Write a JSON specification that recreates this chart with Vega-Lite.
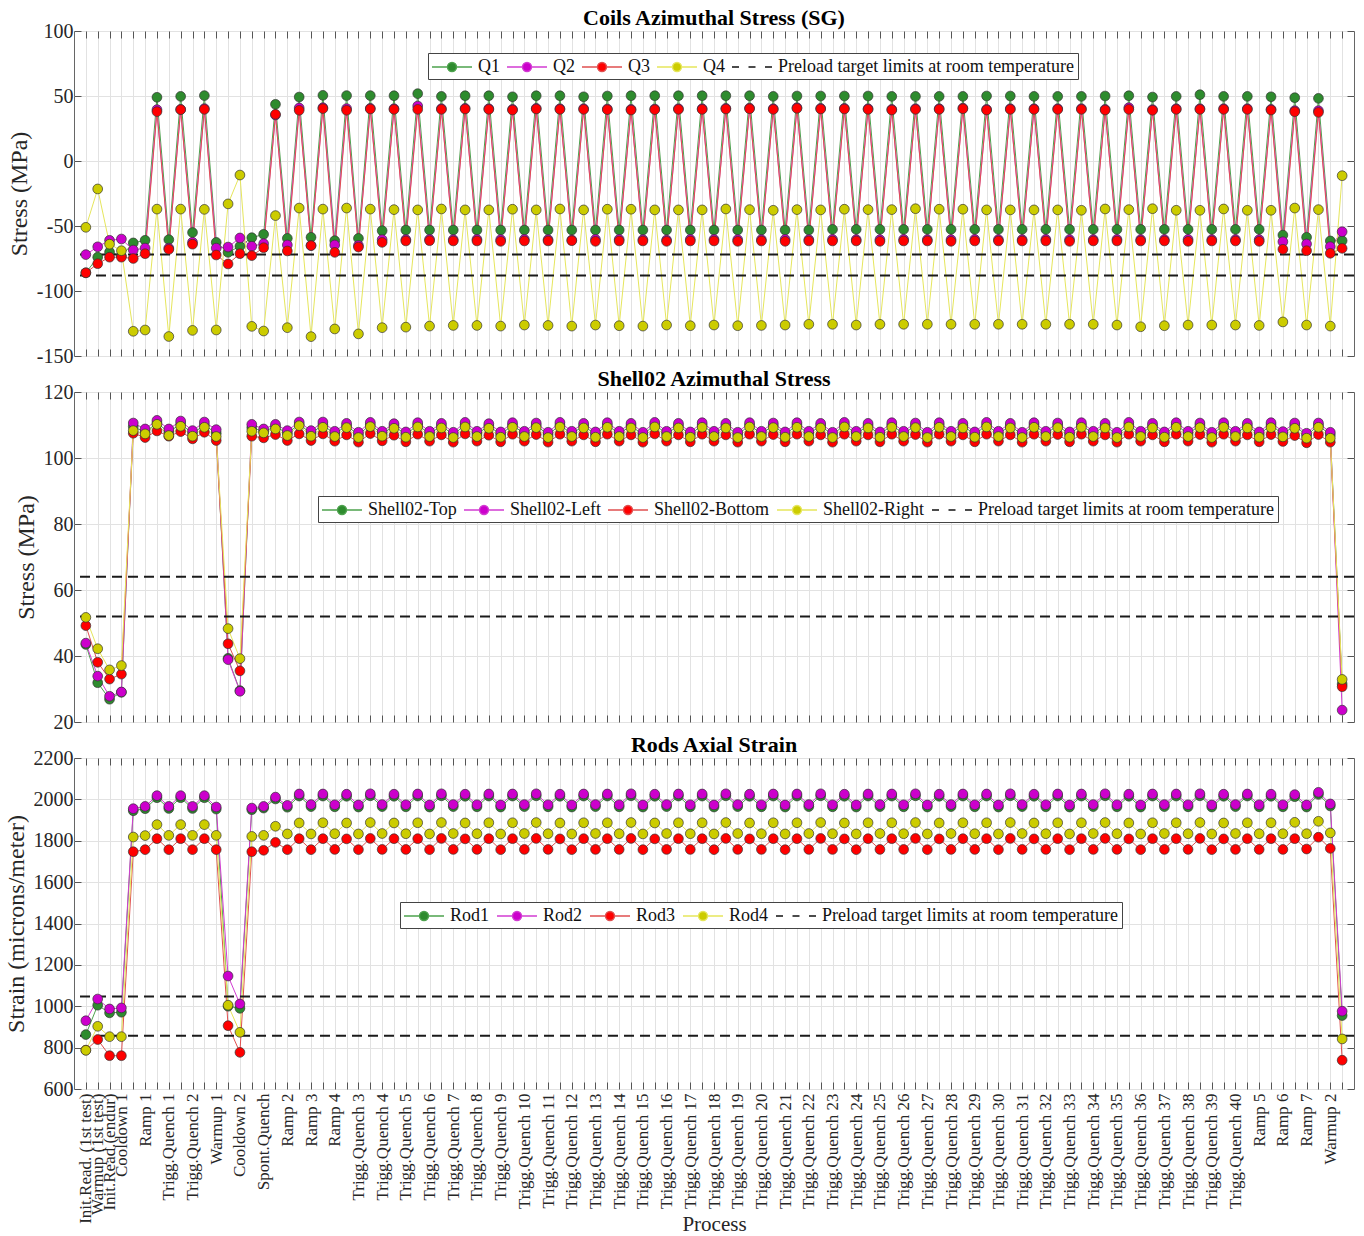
{
"$schema": "https://vega.github.io/schema/vega-lite/v6.json",
"padding": {"left": 3, "right": 3, "top": 6, "bottom": 0},
"background": "white",
"spacing": 0,
"datasets": {
"coils": [
{"i":1,"Q1":-86,"Q2":-72,"Q3":-86,"Q4":-51},
{"i":2,"Q1":-74,"Q2":-66,"Q3":-79,"Q4":-21.5},
{"i":3,"Q1":-70,"Q2":-61,"Q3":-74,"Q4":-64},
{"i":4,"Q1":-73,"Q2":-60,"Q3":-74,"Q4":-69},
{"i":5,"Q1":-63,"Q2":-68.5,"Q3":-75,"Q4":-131},
{"i":6,"Q1":-61,"Q2":-67,"Q3":-71.3,"Q4":-130},
{"i":7,"Q1":49,"Q2":39.5,"Q3":38,"Q4":-37},
{"i":8,"Q1":-60.5,"Q2":-67,"Q3":-68,"Q4":-135},
{"i":9,"Q1":49.7,"Q2":39.7,"Q3":39.5,"Q4":-37},
{"i":10,"Q1":-55,"Q2":-62.5,"Q3":-64,"Q4":-130.3},
{"i":11,"Q1":50.3,"Q2":40.3,"Q3":39.7,"Q4":-37.2},
{"i":12,"Q1":-62.6,"Q2":-67,"Q3":-72.3,"Q4":-130},
{"i":13,"Q1":-70.3,"Q2":-66.2,"Q3":-79.2,"Q4":-33},
{"i":14,"Q1":-65.6,"Q2":-59.2,"Q3":-71.3,"Q4":-10.8},
{"i":15,"Q1":-59,"Q2":-65.6,"Q3":-72.8,"Q4":-127.2},
{"i":16,"Q1":-56.4,"Q2":-63.6,"Q3":-66.7,"Q4":-130.8},
{"i":17,"Q1":43.6,"Q2":35.4,"Q3":35.9,"Q4":-42},
{"i":18,"Q1":-59.5,"Q2":-64.6,"Q3":-69.2,"Q4":-128.2},
{"i":19,"Q1":49.2,"Q2":40.8,"Q3":39,"Q4":-36.2},
{"i":20,"Q1":-58.7,"Q2":-65,"Q3":-65.1,"Q4":-135.1},
{"i":21,"Q1":50.5,"Q2":41,"Q3":40.3,"Q4":-37},
{"i":22,"Q1":-61.3,"Q2":-64.6,"Q3":-70.3,"Q4":-129.2},
{"i":23,"Q1":50.3,"Q2":40.3,"Q3":39,"Q4":-36.2},
{"i":24,"Q1":-59.5,"Q2":-65,"Q3":-66.2,"Q4":-133},
{"i":25,"Q1":50.3,"Q2":40.5,"Q3":40,"Q4":-37},
{"i":26,"Q1":-53.6,"Q2":-60.5,"Q3":-62.6,"Q4":-128.2},
{"i":27,"Q1":50.2,"Q2":40.2,"Q3":39.7,"Q4":-37.4},
{"i":28,"Q1":-53.1,"Q2":-60.5,"Q3":-61.5,"Q4":-127.8},
{"i":29,"Q1":51.8,"Q2":42.3,"Q3":39.7,"Q4":-37.6},
{"i":30,"Q1":-53.1,"Q2":-60.3,"Q3":-61.3,"Q4":-127},
{"i":31,"Q1":49.7,"Q2":40.2,"Q3":39.7,"Q4":-36.9},
{"i":32,"Q1":-53.1,"Q2":-60.5,"Q3":-61.5,"Q4":-126.5},
{"i":33,"Q1":50.2,"Q2":40.5,"Q3":40,"Q4":-37.6},
{"i":34,"Q1":-53.1,"Q2":-60.3,"Q3":-61.5,"Q4":-126.5},
{"i":35,"Q1":50.2,"Q2":40.2,"Q3":39.7,"Q4":-37.6},
{"i":36,"Q1":-53.1,"Q2":-60.5,"Q3":-61.8,"Q4":-127},
{"i":37,"Q1":49.4,"Q2":39.7,"Q3":39.2,"Q4":-37.1},
{"i":38,"Q1":-53.1,"Q2":-60.3,"Q3":-61.5,"Q4":-126.2},
{"i":39,"Q1":50.2,"Q2":40.5,"Q3":40,"Q4":-37.6},
{"i":40,"Q1":-53.1,"Q2":-60.5,"Q3":-61.5,"Q4":-126.5},
{"i":41,"Q1":50.2,"Q2":40.2,"Q3":39.7,"Q4":-36.9},
{"i":42,"Q1":-53.1,"Q2":-60.8,"Q3":-61.3,"Q4":-127},
{"i":43,"Q1":49.4,"Q2":40.2,"Q3":39.7,"Q4":-37.6},
{"i":44,"Q1":-53.1,"Q2":-60.3,"Q3":-61.8,"Q4":-126.2},
{"i":45,"Q1":50,"Q2":40,"Q3":39.5,"Q4":-37.1},
{"i":46,"Q1":-53.1,"Q2":-60.3,"Q3":-61.5,"Q4":-126.7},
{"i":47,"Q1":50.2,"Q2":39.7,"Q3":39.2,"Q4":-37.1},
{"i":48,"Q1":-53.1,"Q2":-60.5,"Q3":-61.5,"Q4":-127},
{"i":49,"Q1":50.2,"Q2":40,"Q3":39.5,"Q4":-37.6},
{"i":50,"Q1":-53.1,"Q2":-60.8,"Q3":-61.8,"Q4":-126.2},
{"i":51,"Q1":50.2,"Q2":40.2,"Q3":39.7,"Q4":-37.6},
{"i":52,"Q1":-53.1,"Q2":-60.3,"Q3":-61.5,"Q4":-126.7},
{"i":53,"Q1":50.2,"Q2":40.2,"Q3":39.7,"Q4":-37.6},
{"i":54,"Q1":-53.1,"Q2":-60.3,"Q3":-61.5,"Q4":-126.2},
{"i":55,"Q1":50.2,"Q2":40.5,"Q3":40,"Q4":-36.9},
{"i":56,"Q1":-53.1,"Q2":-60.5,"Q3":-61.8,"Q4":-126.7},
{"i":57,"Q1":50.2,"Q2":40.7,"Q3":40.2,"Q4":-37.4},
{"i":58,"Q1":-53.1,"Q2":-60.5,"Q3":-61.5,"Q4":-126.5},
{"i":59,"Q1":49.7,"Q2":40.2,"Q3":39.7,"Q4":-37.9},
{"i":60,"Q1":-53.1,"Q2":-60.3,"Q3":-61.8,"Q4":-126.2},
{"i":61,"Q1":50,"Q2":41,"Q3":40.5,"Q4":-37.4},
{"i":62,"Q1":-53.1,"Q2":-60.5,"Q3":-61.5,"Q4":-125.6},
{"i":63,"Q1":50,"Q2":40.5,"Q3":40,"Q4":-37.6},
{"i":64,"Q1":-52.6,"Q2":-60.3,"Q3":-61.5,"Q4":-125.6},
{"i":65,"Q1":50,"Q2":40.5,"Q3":40,"Q4":-37.1},
{"i":66,"Q1":-52.6,"Q2":-60.5,"Q3":-61.5,"Q4":-126.2},
{"i":67,"Q1":50,"Q2":40.2,"Q3":39.7,"Q4":-37.4},
{"i":68,"Q1":-52.6,"Q2":-60.5,"Q3":-61.8,"Q4":-125.6},
{"i":69,"Q1":49.7,"Q2":39.7,"Q3":39.2,"Q4":-37.4},
{"i":70,"Q1":-52.6,"Q2":-60.3,"Q3":-61.5,"Q4":-125.6},
{"i":71,"Q1":49.7,"Q2":40.2,"Q3":39.7,"Q4":-36.7},
{"i":72,"Q1":-52.6,"Q2":-60.5,"Q3":-61.5,"Q4":-125.6},
{"i":73,"Q1":49.7,"Q2":40.2,"Q3":39.7,"Q4":-37.1},
{"i":74,"Q1":-52.6,"Q2":-60.5,"Q3":-61.8,"Q4":-125.6},
{"i":75,"Q1":49.7,"Q2":40.7,"Q3":40.2,"Q4":-37.1},
{"i":76,"Q1":-52.6,"Q2":-60.3,"Q3":-61.5,"Q4":-125.6},
{"i":77,"Q1":50,"Q2":39.7,"Q3":39.2,"Q4":-37.6},
{"i":78,"Q1":-52.6,"Q2":-60.5,"Q3":-61.5,"Q4":-125.6},
{"i":79,"Q1":50,"Q2":40.2,"Q3":39.7,"Q4":-37.6},
{"i":80,"Q1":-52.6,"Q2":-60.5,"Q3":-61.5,"Q4":-125.6},
{"i":81,"Q1":49.7,"Q2":40.2,"Q3":39.7,"Q4":-37.6},
{"i":82,"Q1":-52.6,"Q2":-60.3,"Q3":-61.5,"Q4":-125.6},
{"i":83,"Q1":49.7,"Q2":40.2,"Q3":39.7,"Q4":-37.6},
{"i":84,"Q1":-52.6,"Q2":-60.5,"Q3":-61.8,"Q4":-125.6},
{"i":85,"Q1":49.7,"Q2":40.2,"Q3":39.7,"Q4":-37.9},
{"i":86,"Q1":-52.6,"Q2":-60.5,"Q3":-61.5,"Q4":-125.6},
{"i":87,"Q1":50,"Q2":39.7,"Q3":39.2,"Q4":-36.9},
{"i":88,"Q1":-52.6,"Q2":-60.3,"Q3":-61.5,"Q4":-126.2},
{"i":89,"Q1":50.2,"Q2":41,"Q3":39.7,"Q4":-37.4},
{"i":90,"Q1":-52.6,"Q2":-60.5,"Q3":-61.5,"Q4":-127.5},
{"i":91,"Q1":49.2,"Q2":39.5,"Q3":39,"Q4":-36.7},
{"i":92,"Q1":-52.6,"Q2":-60.5,"Q3":-61.5,"Q4":-126.7},
{"i":93,"Q1":49.7,"Q2":40.2,"Q3":39.7,"Q4":-37.9},
{"i":94,"Q1":-52.6,"Q2":-60.3,"Q3":-61.8,"Q4":-126.2},
{"i":95,"Q1":51,"Q2":40.2,"Q3":39.7,"Q4":-37.9},
{"i":96,"Q1":-52.6,"Q2":-60.5,"Q3":-61.5,"Q4":-126.2},
{"i":97,"Q1":49.7,"Q2":40.2,"Q3":39.7,"Q4":-36.9},
{"i":98,"Q1":-52.6,"Q2":-60.5,"Q3":-61.5,"Q4":-126.2},
{"i":99,"Q1":49.7,"Q2":40.2,"Q3":39.7,"Q4":-37.9},
{"i":100,"Q1":-52.6,"Q2":-60.5,"Q3":-61.8,"Q4":-126.5},
{"i":101,"Q1":49.4,"Q2":39.7,"Q3":39.2,"Q4":-37.9},
{"i":102,"Q1":-57,"Q2":-62.1,"Q3":-67.9,"Q4":-123.8},
{"i":103,"Q1":48.7,"Q2":38.7,"Q3":37.9,"Q4":-36.2},
{"i":104,"Q1":-58.7,"Q2":-63.8,"Q3":-69,"Q4":-126.2},
{"i":105,"Q1":48.2,"Q2":38.7,"Q3":37.4,"Q4":-37.4},
{"i":106,"Q1":-61.5,"Q2":-65.9,"Q3":-71,"Q4":-127},
{"i":107,"Q1":-61.3,"Q2":-54.4,"Q3":-67.2,"Q4":-11.3}
],
"shell": [
{"i":1,"Shell02-Top":43.5,"Shell02-Left":43.9,"Shell02-Bottom":49.2,"Shell02-Right":51.7},
{"i":2,"Shell02-Top":31.9,"Shell02-Left":33.9,"Shell02-Bottom":38.1,"Shell02-Right":42.2},
{"i":3,"Shell02-Top":26.9,"Shell02-Left":27.8,"Shell02-Bottom":33.0,"Shell02-Right":35.8},
{"i":4,"Shell02-Top":29.0,"Shell02-Left":29.1,"Shell02-Bottom":34.5,"Shell02-Right":37.1},
{"i":5,"Shell02-Top":109.5,"Shell02-Left":110.6,"Shell02-Bottom":107.5,"Shell02-Right":108.3},
{"i":6,"Shell02-Top":107.8,"Shell02-Left":108.8,"Shell02-Bottom":106.2,"Shell02-Right":107.3},
{"i":7,"Shell02-Top":110.6,"Shell02-Left":111.4,"Shell02-Bottom":108.2,"Shell02-Right":110.2},
{"i":8,"Shell02-Top":107.8,"Shell02-Left":108.8,"Shell02-Bottom":106.6,"Shell02-Right":106.8},
{"i":9,"Shell02-Top":110.4,"Shell02-Left":111.2,"Shell02-Bottom":108.0,"Shell02-Right":109.6},
{"i":10,"Shell02-Top":107.4,"Shell02-Left":108.3,"Shell02-Bottom":105.8,"Shell02-Right":106.6},
{"i":11,"Shell02-Top":110.0,"Shell02-Left":110.9,"Shell02-Bottom":107.8,"Shell02-Right":109.3},
{"i":12,"Shell02-Top":107.5,"Shell02-Left":108.6,"Shell02-Bottom":105.3,"Shell02-Right":106.5},
{"i":13,"Shell02-Top":39.3,"Shell02-Left":38.9,"Shell02-Bottom":43.7,"Shell02-Right":48.3},
{"i":14,"Shell02-Top":29.5,"Shell02-Left":29.3,"Shell02-Bottom":35.5,"Shell02-Right":39.2},
{"i":15,"Shell02-Top":109.2,"Shell02-Left":110.2,"Shell02-Bottom":106.6,"Shell02-Right":108.1},
{"i":16,"Shell02-Top":108.0,"Shell02-Left":108.8,"Shell02-Bottom":106.1,"Shell02-Right":107.6},
{"i":17,"Shell02-Top":109.5,"Shell02-Left":110.2,"Shell02-Bottom":107.1,"Shell02-Right":108.8},
{"i":18,"Shell02-Top":107.5,"Shell02-Left":108.3,"Shell02-Bottom":105.3,"Shell02-Right":106.8},
{"i":19,"Shell02-Top":110.2,"Shell02-Left":110.9,"Shell02-Bottom":107.3,"Shell02-Right":109.8},
{"i":20,"Shell02-Top":107.5,"Shell02-Left":108.3,"Shell02-Bottom":105.3,"Shell02-Right":106.6},
{"i":21,"Shell02-Top":110.0,"Shell02-Left":110.9,"Shell02-Bottom":107.3,"Shell02-Right":109.3},
{"i":22,"Shell02-Top":107.3,"Shell02-Left":108.1,"Shell02-Bottom":105.1,"Shell02-Right":106.5},
{"i":23,"Shell02-Top":109.8,"Shell02-Left":110.5,"Shell02-Bottom":107.0,"Shell02-Right":109.2},
{"i":24,"Shell02-Top":107.0,"Shell02-Left":107.8,"Shell02-Bottom":104.8,"Shell02-Right":106.2},
{"i":25,"Shell02-Top":110.1,"Shell02-Left":110.8,"Shell02-Bottom":107.4,"Shell02-Right":109.5},
{"i":26,"Shell02-Top":107.3,"Shell02-Left":108.1,"Shell02-Bottom":105.2,"Shell02-Right":106.6},
{"i":27,"Shell02-Top":109.7,"Shell02-Left":110.4,"Shell02-Bottom":106.9,"Shell02-Right":109.0},
{"i":28,"Shell02-Top":107.1,"Shell02-Left":107.9,"Shell02-Bottom":104.9,"Shell02-Right":106.3},
{"i":29,"Shell02-Top":110.0,"Shell02-Left":110.7,"Shell02-Bottom":107.2,"Shell02-Right":109.4},
{"i":30,"Shell02-Top":107.3,"Shell02-Left":108.1,"Shell02-Bottom":105.1,"Shell02-Right":106.5},
{"i":31,"Shell02-Top":109.8,"Shell02-Left":110.5,"Shell02-Bottom":107.0,"Shell02-Right":109.1},
{"i":32,"Shell02-Top":107.0,"Shell02-Left":107.8,"Shell02-Bottom":104.8,"Shell02-Right":106.2},
{"i":33,"Shell02-Top":110.1,"Shell02-Left":110.8,"Shell02-Bottom":107.3,"Shell02-Right":109.4},
{"i":34,"Shell02-Top":107.3,"Shell02-Left":108.1,"Shell02-Bottom":105.1,"Shell02-Right":106.5},
{"i":35,"Shell02-Top":109.7,"Shell02-Left":110.4,"Shell02-Bottom":106.9,"Shell02-Right":109.0},
{"i":36,"Shell02-Top":107.1,"Shell02-Left":107.9,"Shell02-Bottom":104.9,"Shell02-Right":106.3},
{"i":37,"Shell02-Top":110.0,"Shell02-Left":110.7,"Shell02-Bottom":107.2,"Shell02-Right":109.3},
{"i":38,"Shell02-Top":107.3,"Shell02-Left":108.1,"Shell02-Bottom":105.1,"Shell02-Right":106.5},
{"i":39,"Shell02-Top":109.9,"Shell02-Left":110.6,"Shell02-Bottom":107.1,"Shell02-Right":109.2},
{"i":40,"Shell02-Top":107.0,"Shell02-Left":107.8,"Shell02-Bottom":104.8,"Shell02-Right":106.2},
{"i":41,"Shell02-Top":110.0,"Shell02-Left":110.8,"Shell02-Bottom":107.2,"Shell02-Right":109.4},
{"i":42,"Shell02-Top":107.3,"Shell02-Left":108.1,"Shell02-Bottom":105.1,"Shell02-Right":106.5},
{"i":43,"Shell02-Top":109.8,"Shell02-Left":110.5,"Shell02-Bottom":107.0,"Shell02-Right":109.1},
{"i":44,"Shell02-Top":107.1,"Shell02-Left":107.9,"Shell02-Bottom":104.9,"Shell02-Right":106.3},
{"i":45,"Shell02-Top":110.0,"Shell02-Left":110.7,"Shell02-Bottom":107.2,"Shell02-Right":109.3},
{"i":46,"Shell02-Top":107.3,"Shell02-Left":108.1,"Shell02-Bottom":105.1,"Shell02-Right":106.5},
{"i":47,"Shell02-Top":109.8,"Shell02-Left":110.5,"Shell02-Bottom":107.0,"Shell02-Right":109.1},
{"i":48,"Shell02-Top":107.0,"Shell02-Left":107.8,"Shell02-Bottom":104.8,"Shell02-Right":106.2},
{"i":49,"Shell02-Top":110.1,"Shell02-Left":110.8,"Shell02-Bottom":107.3,"Shell02-Right":109.4},
{"i":50,"Shell02-Top":107.3,"Shell02-Left":108.1,"Shell02-Bottom":105.1,"Shell02-Right":106.5},
{"i":51,"Shell02-Top":109.8,"Shell02-Left":110.5,"Shell02-Bottom":107.0,"Shell02-Right":109.1},
{"i":52,"Shell02-Top":107.1,"Shell02-Left":107.9,"Shell02-Bottom":104.9,"Shell02-Right":106.3},
{"i":53,"Shell02-Top":110.0,"Shell02-Left":110.7,"Shell02-Bottom":107.2,"Shell02-Right":109.3},
{"i":54,"Shell02-Top":107.3,"Shell02-Left":108.1,"Shell02-Bottom":105.1,"Shell02-Right":106.5},
{"i":55,"Shell02-Top":109.8,"Shell02-Left":110.5,"Shell02-Bottom":107.0,"Shell02-Right":109.1},
{"i":56,"Shell02-Top":107.0,"Shell02-Left":107.8,"Shell02-Bottom":104.8,"Shell02-Right":106.2},
{"i":57,"Shell02-Top":110.0,"Shell02-Left":110.7,"Shell02-Bottom":107.2,"Shell02-Right":109.4},
{"i":58,"Shell02-Top":107.3,"Shell02-Left":108.1,"Shell02-Bottom":105.1,"Shell02-Right":106.5},
{"i":59,"Shell02-Top":109.9,"Shell02-Left":110.6,"Shell02-Bottom":107.1,"Shell02-Right":109.2},
{"i":60,"Shell02-Top":107.1,"Shell02-Left":107.9,"Shell02-Bottom":104.9,"Shell02-Right":106.3},
{"i":61,"Shell02-Top":110.0,"Shell02-Left":110.7,"Shell02-Bottom":107.2,"Shell02-Right":109.3},
{"i":62,"Shell02-Top":107.3,"Shell02-Left":108.1,"Shell02-Bottom":105.1,"Shell02-Right":106.5},
{"i":63,"Shell02-Top":109.8,"Shell02-Left":110.5,"Shell02-Bottom":107.0,"Shell02-Right":109.1},
{"i":64,"Shell02-Top":107.0,"Shell02-Left":107.8,"Shell02-Bottom":104.8,"Shell02-Right":106.2},
{"i":65,"Shell02-Top":110.0,"Shell02-Left":110.8,"Shell02-Bottom":107.2,"Shell02-Right":109.4},
{"i":66,"Shell02-Top":107.3,"Shell02-Left":108.1,"Shell02-Bottom":105.1,"Shell02-Right":106.5},
{"i":67,"Shell02-Top":109.8,"Shell02-Left":110.5,"Shell02-Bottom":107.0,"Shell02-Right":109.1},
{"i":68,"Shell02-Top":107.1,"Shell02-Left":107.9,"Shell02-Bottom":104.9,"Shell02-Right":106.3},
{"i":69,"Shell02-Top":110.0,"Shell02-Left":110.7,"Shell02-Bottom":107.2,"Shell02-Right":109.3},
{"i":70,"Shell02-Top":107.3,"Shell02-Left":108.1,"Shell02-Bottom":105.1,"Shell02-Right":106.5},
{"i":71,"Shell02-Top":109.9,"Shell02-Left":110.6,"Shell02-Bottom":107.1,"Shell02-Right":109.2},
{"i":72,"Shell02-Top":107.0,"Shell02-Left":107.8,"Shell02-Bottom":104.8,"Shell02-Right":106.2},
{"i":73,"Shell02-Top":110.0,"Shell02-Left":110.7,"Shell02-Bottom":107.2,"Shell02-Right":109.3},
{"i":74,"Shell02-Top":107.3,"Shell02-Left":108.1,"Shell02-Bottom":105.1,"Shell02-Right":106.5},
{"i":75,"Shell02-Top":109.8,"Shell02-Left":110.5,"Shell02-Bottom":107.0,"Shell02-Right":109.1},
{"i":76,"Shell02-Top":107.1,"Shell02-Left":107.9,"Shell02-Bottom":104.9,"Shell02-Right":106.3},
{"i":77,"Shell02-Top":110.0,"Shell02-Left":110.8,"Shell02-Bottom":107.2,"Shell02-Right":109.4},
{"i":78,"Shell02-Top":107.3,"Shell02-Left":108.1,"Shell02-Bottom":105.1,"Shell02-Right":106.5},
{"i":79,"Shell02-Top":109.8,"Shell02-Left":110.5,"Shell02-Bottom":107.0,"Shell02-Right":109.1},
{"i":80,"Shell02-Top":107.0,"Shell02-Left":107.8,"Shell02-Bottom":104.8,"Shell02-Right":106.2},
{"i":81,"Shell02-Top":110.0,"Shell02-Left":110.7,"Shell02-Bottom":107.2,"Shell02-Right":109.3},
{"i":82,"Shell02-Top":107.3,"Shell02-Left":108.1,"Shell02-Bottom":105.1,"Shell02-Right":106.5},
{"i":83,"Shell02-Top":109.9,"Shell02-Left":110.6,"Shell02-Bottom":107.1,"Shell02-Right":109.2},
{"i":84,"Shell02-Top":107.1,"Shell02-Left":107.9,"Shell02-Bottom":104.9,"Shell02-Right":106.3},
{"i":85,"Shell02-Top":110.0,"Shell02-Left":110.7,"Shell02-Bottom":107.2,"Shell02-Right":109.3},
{"i":86,"Shell02-Top":107.3,"Shell02-Left":108.1,"Shell02-Bottom":105.1,"Shell02-Right":106.5},
{"i":87,"Shell02-Top":109.8,"Shell02-Left":110.5,"Shell02-Bottom":107.0,"Shell02-Right":109.1},
{"i":88,"Shell02-Top":107.0,"Shell02-Left":107.8,"Shell02-Bottom":104.8,"Shell02-Right":106.2},
{"i":89,"Shell02-Top":110.0,"Shell02-Left":110.8,"Shell02-Bottom":107.2,"Shell02-Right":109.4},
{"i":90,"Shell02-Top":107.3,"Shell02-Left":108.1,"Shell02-Bottom":105.1,"Shell02-Right":106.5},
{"i":91,"Shell02-Top":109.8,"Shell02-Left":110.5,"Shell02-Bottom":107.0,"Shell02-Right":109.1},
{"i":92,"Shell02-Top":107.1,"Shell02-Left":107.9,"Shell02-Bottom":104.9,"Shell02-Right":106.3},
{"i":93,"Shell02-Top":110.0,"Shell02-Left":110.7,"Shell02-Bottom":107.2,"Shell02-Right":109.3},
{"i":94,"Shell02-Top":107.3,"Shell02-Left":108.1,"Shell02-Bottom":105.1,"Shell02-Right":106.5},
{"i":95,"Shell02-Top":109.9,"Shell02-Left":110.6,"Shell02-Bottom":107.1,"Shell02-Right":109.2},
{"i":96,"Shell02-Top":107.0,"Shell02-Left":107.8,"Shell02-Bottom":104.8,"Shell02-Right":106.2},
{"i":97,"Shell02-Top":110.0,"Shell02-Left":110.7,"Shell02-Bottom":107.2,"Shell02-Right":109.3},
{"i":98,"Shell02-Top":107.3,"Shell02-Left":108.1,"Shell02-Bottom":105.1,"Shell02-Right":106.5},
{"i":99,"Shell02-Top":109.8,"Shell02-Left":110.5,"Shell02-Bottom":107.0,"Shell02-Right":109.1},
{"i":100,"Shell02-Top":107.1,"Shell02-Left":107.9,"Shell02-Bottom":104.9,"Shell02-Right":106.3},
{"i":101,"Shell02-Top":110.0,"Shell02-Left":110.7,"Shell02-Bottom":107.1,"Shell02-Right":109.2},
{"i":102,"Shell02-Top":107.2,"Shell02-Left":108.0,"Shell02-Bottom":105.0,"Shell02-Right":106.4},
{"i":103,"Shell02-Top":109.9,"Shell02-Left":110.6,"Shell02-Bottom":106.8,"Shell02-Right":109.0},
{"i":104,"Shell02-Top":106.8,"Shell02-Left":107.5,"Shell02-Bottom":104.6,"Shell02-Right":106.0},
{"i":105,"Shell02-Top":109.9,"Shell02-Left":110.6,"Shell02-Bottom":107.1,"Shell02-Right":109.3},
{"i":106,"Shell02-Top":107.0,"Shell02-Left":107.8,"Shell02-Bottom":104.8,"Shell02-Right":106.0},
{"i":107,"Shell02-Top":31.5,"Shell02-Left":23.6,"Shell02-Bottom":30.7,"Shell02-Right":32.9}
],
"rods": [
{"i":1,"Rod1":863,"Rod2":930,"Rod3":788,"Rod4":787},
{"i":2,"Rod1":1005,"Rod2":1035,"Rod3":839,"Rod4":903},
{"i":3,"Rod1":968,"Rod2":987,"Rod3":761,"Rod4":853},
{"i":4,"Rod1":971,"Rod2":992,"Rod3":761,"Rod4":853},
{"i":5,"Rod1":1945,"Rod2":1955,"Rod3":1747,"Rod4":1818},
{"i":6,"Rod1":1955,"Rod2":1966,"Rod3":1757,"Rod4":1825},
{"i":7,"Rod1":2008,"Rod2":2018,"Rod3":1810,"Rod4":1878},
{"i":8,"Rod1":1956,"Rod2":1966,"Rod3":1757,"Rod4":1826},
{"i":9,"Rod1":2008,"Rod2":2018,"Rod3":1810,"Rod4":1878},
{"i":10,"Rod1":1956,"Rod2":1966,"Rod3":1757,"Rod4":1826},
{"i":11,"Rod1":2008,"Rod2":2018,"Rod3":1810,"Rod4":1878},
{"i":12,"Rod1":1953,"Rod2":1963,"Rod3":1757,"Rod4":1826},
{"i":13,"Rod1":1000,"Rod2":1146,"Rod3":906,"Rod4":1005},
{"i":14,"Rod1":990,"Rod2":1011,"Rod3":777,"Rod4":874},
{"i":15,"Rod1":1950,"Rod2":1958,"Rod3":1747,"Rod4":1821},
{"i":16,"Rod1":1958,"Rod2":1966,"Rod3":1754,"Rod4":1826},
{"i":17,"Rod1":2002,"Rod2":2011,"Rod3":1792,"Rod4":1870},
{"i":18,"Rod1":1962,"Rod2":1971,"Rod3":1757,"Rod4":1833},
{"i":19,"Rod1":2016,"Rod2":2026,"Rod3":1810,"Rod4":1886},
{"i":20,"Rod1":1965,"Rod2":1975,"Rod3":1757,"Rod4":1833},
{"i":21,"Rod1":2016,"Rod2":2026,"Rod3":1810,"Rod4":1887},
{"i":22,"Rod1":1964,"Rod2":1974,"Rod3":1758,"Rod4":1834},
{"i":23,"Rod1":2015,"Rod2":2025,"Rod3":1809,"Rod4":1886},
{"i":24,"Rod1":1963,"Rod2":1973,"Rod3":1757,"Rod4":1833},
{"i":25,"Rod1":2017,"Rod2":2027,"Rod3":1811,"Rod4":1888},
{"i":26,"Rod1":1965,"Rod2":1975,"Rod3":1758,"Rod4":1835},
{"i":27,"Rod1":2015,"Rod2":2025,"Rod3":1810,"Rod4":1886},
{"i":28,"Rod1":1964,"Rod2":1974,"Rod3":1758,"Rod4":1834},
{"i":29,"Rod1":2016,"Rod2":2026,"Rod3":1810,"Rod4":1887},
{"i":30,"Rod1":1963,"Rod2":1973,"Rod3":1757,"Rod4":1833},
{"i":31,"Rod1":2017,"Rod2":2027,"Rod3":1811,"Rod4":1888},
{"i":32,"Rod1":1965,"Rod2":1975,"Rod3":1758,"Rod4":1835},
{"i":33,"Rod1":2015,"Rod2":2025,"Rod3":1809,"Rod4":1886},
{"i":34,"Rod1":1964,"Rod2":1974,"Rod3":1758,"Rod4":1834},
{"i":35,"Rod1":2016,"Rod2":2026,"Rod3":1810,"Rod4":1887},
{"i":36,"Rod1":1963,"Rod2":1973,"Rod3":1757,"Rod4":1833},
{"i":37,"Rod1":2016,"Rod2":2026,"Rod3":1810,"Rod4":1887},
{"i":38,"Rod1":1965,"Rod2":1975,"Rod3":1758,"Rod4":1835},
{"i":39,"Rod1":2017,"Rod2":2027,"Rod3":1811,"Rod4":1888},
{"i":40,"Rod1":1964,"Rod2":1974,"Rod3":1758,"Rod4":1834},
{"i":41,"Rod1":2015,"Rod2":2025,"Rod3":1809,"Rod4":1886},
{"i":42,"Rod1":1963,"Rod2":1973,"Rod3":1757,"Rod4":1833},
{"i":43,"Rod1":2016,"Rod2":2026,"Rod3":1810,"Rod4":1887},
{"i":44,"Rod1":1965,"Rod2":1975,"Rod3":1758,"Rod4":1835},
{"i":45,"Rod1":2016,"Rod2":2026,"Rod3":1810,"Rod4":1887},
{"i":46,"Rod1":1964,"Rod2":1974,"Rod3":1758,"Rod4":1834},
{"i":47,"Rod1":2017,"Rod2":2027,"Rod3":1811,"Rod4":1888},
{"i":48,"Rod1":1963,"Rod2":1973,"Rod3":1757,"Rod4":1833},
{"i":49,"Rod1":2015,"Rod2":2025,"Rod3":1809,"Rod4":1886},
{"i":50,"Rod1":1965,"Rod2":1975,"Rod3":1758,"Rod4":1835},
{"i":51,"Rod1":2016,"Rod2":2026,"Rod3":1810,"Rod4":1887},
{"i":52,"Rod1":1964,"Rod2":1974,"Rod3":1758,"Rod4":1834},
{"i":53,"Rod1":2016,"Rod2":2026,"Rod3":1810,"Rod4":1887},
{"i":54,"Rod1":1963,"Rod2":1973,"Rod3":1757,"Rod4":1833},
{"i":55,"Rod1":2017,"Rod2":2027,"Rod3":1811,"Rod4":1888},
{"i":56,"Rod1":1965,"Rod2":1975,"Rod3":1758,"Rod4":1835},
{"i":57,"Rod1":2015,"Rod2":2025,"Rod3":1809,"Rod4":1886},
{"i":58,"Rod1":1964,"Rod2":1974,"Rod3":1758,"Rod4":1834},
{"i":59,"Rod1":2016,"Rod2":2026,"Rod3":1810,"Rod4":1887},
{"i":60,"Rod1":1963,"Rod2":1973,"Rod3":1757,"Rod4":1833},
{"i":61,"Rod1":2016,"Rod2":2026,"Rod3":1810,"Rod4":1887},
{"i":62,"Rod1":1965,"Rod2":1975,"Rod3":1758,"Rod4":1835},
{"i":63,"Rod1":2017,"Rod2":2027,"Rod3":1811,"Rod4":1888},
{"i":64,"Rod1":1964,"Rod2":1974,"Rod3":1758,"Rod4":1834},
{"i":65,"Rod1":2015,"Rod2":2025,"Rod3":1809,"Rod4":1886},
{"i":66,"Rod1":1963,"Rod2":1973,"Rod3":1757,"Rod4":1833},
{"i":67,"Rod1":2016,"Rod2":2026,"Rod3":1810,"Rod4":1887},
{"i":68,"Rod1":1965,"Rod2":1975,"Rod3":1758,"Rod4":1835},
{"i":69,"Rod1":2016,"Rod2":2026,"Rod3":1810,"Rod4":1887},
{"i":70,"Rod1":1964,"Rod2":1974,"Rod3":1758,"Rod4":1834},
{"i":71,"Rod1":2017,"Rod2":2027,"Rod3":1811,"Rod4":1888},
{"i":72,"Rod1":1963,"Rod2":1973,"Rod3":1757,"Rod4":1833},
{"i":73,"Rod1":2015,"Rod2":2025,"Rod3":1809,"Rod4":1886},
{"i":74,"Rod1":1965,"Rod2":1975,"Rod3":1758,"Rod4":1835},
{"i":75,"Rod1":2016,"Rod2":2026,"Rod3":1810,"Rod4":1887},
{"i":76,"Rod1":1964,"Rod2":1974,"Rod3":1758,"Rod4":1834},
{"i":77,"Rod1":2016,"Rod2":2026,"Rod3":1810,"Rod4":1887},
{"i":78,"Rod1":1963,"Rod2":1973,"Rod3":1757,"Rod4":1833},
{"i":79,"Rod1":2017,"Rod2":2027,"Rod3":1811,"Rod4":1888},
{"i":80,"Rod1":1965,"Rod2":1975,"Rod3":1758,"Rod4":1835},
{"i":81,"Rod1":2015,"Rod2":2025,"Rod3":1809,"Rod4":1886},
{"i":82,"Rod1":1964,"Rod2":1974,"Rod3":1758,"Rod4":1834},
{"i":83,"Rod1":2016,"Rod2":2026,"Rod3":1810,"Rod4":1887},
{"i":84,"Rod1":1963,"Rod2":1973,"Rod3":1757,"Rod4":1833},
{"i":85,"Rod1":2016,"Rod2":2026,"Rod3":1810,"Rod4":1887},
{"i":86,"Rod1":1965,"Rod2":1975,"Rod3":1758,"Rod4":1835},
{"i":87,"Rod1":2017,"Rod2":2027,"Rod3":1811,"Rod4":1888},
{"i":88,"Rod1":1964,"Rod2":1974,"Rod3":1758,"Rod4":1834},
{"i":89,"Rod1":2015,"Rod2":2025,"Rod3":1809,"Rod4":1886},
{"i":90,"Rod1":1963,"Rod2":1973,"Rod3":1757,"Rod4":1833},
{"i":91,"Rod1":2016,"Rod2":2026,"Rod3":1810,"Rod4":1887},
{"i":92,"Rod1":1965,"Rod2":1975,"Rod3":1758,"Rod4":1835},
{"i":93,"Rod1":2016,"Rod2":2026,"Rod3":1810,"Rod4":1887},
{"i":94,"Rod1":1964,"Rod2":1974,"Rod3":1758,"Rod4":1834},
{"i":95,"Rod1":2017,"Rod2":2027,"Rod3":1811,"Rod4":1888},
{"i":96,"Rod1":1963,"Rod2":1973,"Rod3":1757,"Rod4":1833},
{"i":97,"Rod1":2015,"Rod2":2025,"Rod3":1809,"Rod4":1886},
{"i":98,"Rod1":1965,"Rod2":1975,"Rod3":1758,"Rod4":1835},
{"i":99,"Rod1":2016,"Rod2":2026,"Rod3":1810,"Rod4":1887},
{"i":100,"Rod1":1964,"Rod2":1974,"Rod3":1758,"Rod4":1834},
{"i":101,"Rod1":2015,"Rod2":2025,"Rod3":1810,"Rod4":1887},
{"i":102,"Rod1":1964,"Rod2":1974,"Rod3":1758,"Rod4":1834},
{"i":103,"Rod1":2013,"Rod2":2023,"Rod3":1810,"Rod4":1889},
{"i":104,"Rod1":1963,"Rod2":1973,"Rod3":1760,"Rod4":1834},
{"i":105,"Rod1":2024,"Rod2":2034,"Rod3":1817,"Rod4":1894},
{"i":106,"Rod1":1968,"Rod2":1978,"Rod3":1763,"Rod4":1838},
{"i":107,"Rod1":955,"Rod2":976,"Rod3":739,"Rod4":842}
]
},
"vconcat": [
{
"width": 1280, "height": 325,
"title": {"text": "Coils Azimuthal Stress (SG)"},
"layer": [
{"data": {"name": "coils"},
 "transform": [{"fold": ["Q1","Q2","Q3","Q4"], "as": ["series","value"]}],
 "mark": {"type": "line", "strokeWidth": 1},
 "encoding": {
  "x": {"field": "i", "type": "quantitative", "scale": {"domain": [0,108], "nice": false, "zero": false},
   "axis": {"orient": "bottom", "values": [1,2,3,4,5,6,7,8,9,10,11,12,13,14,15,16,17,18,19,20,21,22,23,24,25,26,27,28,29,30,31,32,33,34,35,36,37,38,39,40,41,42,43,44,45,46,47,48,49,50,51,52,53,54,55,56,57,58,59,60,61,62,63,64,65,66,67,68,69,70,71,72,73,74,75,76,77,78,79,80,81,82,83,84,85,86,87,88,89,90,91,92,93,94,95,96,97,98,99,100,101,102,103,104,105,106,107], "labels": false, "title": null, "grid": true, "ticks": true, "tickSize": -7, "domain": false, "minExtent": 0, "maxExtent": 0}},
  "y": {"field": "value", "type": "quantitative", "scale": {"domain": [-150,100], "nice": false, "zero": false},
   "axis": {"title": "Stress (MPa)", "values": [-150,-100,-50,0,50,100], "labelExpr": "datum.value + ''", "grid": true, "ticks": true, "tickSize": -7, "domain": false, "labelPadding": 8, "titlePadding": 5}},
  "stroke": {"field": "series", "type": "nominal", "scale": {"domain": ["Q1","Q2","Q3","Q4","Preload target limits at room temperature"], "range": ["#4ea24e","#d23cd2","#e05050","#e6e65c","#111111"]}, "legend": null}
 }},
{"data": {"values": [{"lim": -72},{"lim": -88}]},
 "mark": {"type": "rule", "stroke": "#1a1a1a", "strokeWidth": 2, "strokeDash": [10,6]},
 "encoding": {"y": {"field": "lim", "type": "quantitative", "axis": null}}},
{"data": {"name": "coils"},
 "transform": [{"fold": ["Q1","Q2","Q3","Q4"], "as": ["series","value"]}],
 "mark": {"type": "point", "filled": true, "opacity": 1, "size": 95, "stroke": "#333333", "strokeWidth": 0.7},
 "encoding": {
  "x": {"field": "i", "type": "quantitative", "axis": {"orient": "top", "values": [1,2,3,4,5,6,7,8,9,10,11,12,13,14,15,16,17,18,19,20,21,22,23,24,25,26,27,28,29,30,31,32,33,34,35,36,37,38,39,40,41,42,43,44,45,46,47,48,49,50,51,52,53,54,55,56,57,58,59,60,61,62,63,64,65,66,67,68,69,70,71,72,73,74,75,76,77,78,79,80,81,82,83,84,85,86,87,88,89,90,91,92,93,94,95,96,97,98,99,100,101,102,103,104,105,106,107], "labels": false, "title": null, "grid": false, "ticks": true, "tickSize": -7, "domain": false, "minExtent": 0, "maxExtent": 0}},
  "y": {"field": "value", "type": "quantitative", "axis": {"orient": "right", "values": [-150,-100,-50,0,50,100], "labels": false, "title": null, "grid": false, "ticks": true, "tickSize": -7, "domain": false, "minExtent": 0, "maxExtent": 0}},
  "color": {"field": "series", "type": "nominal", "scale": {"domain": ["Q1","Q2","Q3","Q4","Preload target limits at room temperature"], "range": ["#2e8b2e","#cc00cc","#ff0000","#cccc00","#000000"]}, "legend": null}
 }},
{"data": {"values": []},
 "mark": {"type": "point", "filled": true, "opacity": 1, "strokeWidth": 1.4},
 "encoding": {
  "color": {"field": "series", "type": "nominal", "scale": {"domain": ["Q1","Q2","Q3","Q4","Preload target limits at room temperature"], "range": ["#2e8b2e","#cc00cc","#ff0000","#cccc00","#000000"]},
   "legend": {"orient": "none", "legendX": 354, "legendY": 22, "direction": "horizontal", "title": null, "labelFontSize": 18, "labelLimit": 400, "symbolSize": 400, "symbolStrokeWidth": 1.4, "symbolOffset": 10, "labelOffset": 15, "columnPadding": 4, "padding": 3, "strokeColor": "#444444", "fillColor": "#ffffff"}},
  "stroke": {"field": "series", "type": "nominal", "scale": {"domain": ["Q1","Q2","Q3","Q4","Preload target limits at room temperature"], "range": ["#4ea24e","#d23cd2","#e05050","#e6e65c","#111111"]},
   "legend": {"orient": "none", "legendX": 354, "legendY": 22, "direction": "horizontal", "title": null, "labelFontSize": 18, "labelLimit": 400, "symbolSize": 400, "symbolStrokeWidth": 1.4, "symbolOffset": 10, "labelOffset": 15, "columnPadding": 4, "padding": 3, "strokeColor": "#444444", "fillColor": "#ffffff"}},
  "shape": {"field": "series", "type": "nominal", "scale": {"domain": ["Q1","Q2","Q3","Q4","Preload target limits at room temperature"], "range": ["M-2,0L-0.45,0M0.45,0L2,0M0.45,0A0.45,0.45,0,1,1,-0.45,0A0.45,0.45,0,1,1,0.45,0Z","M-2,0L-0.45,0M0.45,0L2,0M0.45,0A0.45,0.45,0,1,1,-0.45,0A0.45,0.45,0,1,1,0.45,0Z","M-2,0L-0.45,0M0.45,0L2,0M0.45,0A0.45,0.45,0,1,1,-0.45,0A0.45,0.45,0,1,1,0.45,0Z","M-2,0L-0.45,0M0.45,0L2,0M0.45,0A0.45,0.45,0,1,1,-0.45,0A0.45,0.45,0,1,1,0.45,0Z","M-2,0L-1.3,0M-0.35,0L0.35,0M1.3,0L2,0"]},
   "legend": {"orient": "none", "legendX": 354, "legendY": 22, "direction": "horizontal", "title": null, "labelFontSize": 18, "labelLimit": 400, "symbolSize": 400, "symbolStrokeWidth": 1.4, "symbolOffset": 10, "labelOffset": 15, "columnPadding": 4, "padding": 3, "strokeColor": "#444444", "fillColor": "#ffffff"}}
 }}
],
"resolve": {"axis": {"x": "independent", "y": "independent"}, "scale": {"color": "independent", "stroke": "independent", "shape": "independent"}}
},
{
"width": 1280, "height": 330,
"title": {"text": "Shell02 Azimuthal Stress"},
"layer": [
{"data": {"name": "shell"},
 "transform": [{"fold": ["Shell02-Top","Shell02-Left","Shell02-Bottom","Shell02-Right"], "as": ["series","value"]}],
 "mark": {"type": "line", "strokeWidth": 1},
 "encoding": {
  "x": {"field": "i", "type": "quantitative", "scale": {"domain": [0,108], "nice": false, "zero": false},
   "axis": {"orient": "bottom", "values": [1,2,3,4,5,6,7,8,9,10,11,12,13,14,15,16,17,18,19,20,21,22,23,24,25,26,27,28,29,30,31,32,33,34,35,36,37,38,39,40,41,42,43,44,45,46,47,48,49,50,51,52,53,54,55,56,57,58,59,60,61,62,63,64,65,66,67,68,69,70,71,72,73,74,75,76,77,78,79,80,81,82,83,84,85,86,87,88,89,90,91,92,93,94,95,96,97,98,99,100,101,102,103,104,105,106,107], "labels": false, "title": null, "grid": true, "ticks": true, "tickSize": -7, "domain": false, "minExtent": 0, "maxExtent": 0}},
  "y": {"field": "value", "type": "quantitative", "scale": {"domain": [20,120], "nice": false, "zero": false},
   "axis": {"title": "Stress (MPa)", "values": [20,40,60,80,100,120], "labelExpr": "datum.value + ''", "grid": true, "ticks": true, "tickSize": -7, "domain": false, "labelPadding": 8, "titlePadding": 5}},
  "stroke": {"field": "series", "type": "nominal", "scale": {"domain": ["Shell02-Top","Shell02-Left","Shell02-Bottom","Shell02-Right","Preload target limits at room temperature"], "range": ["#4ea24e","#d23cd2","#e05050","#e6e65c","#111111"]}, "legend": null}
 }},
{"data": {"values": [{"lim": 64},{"lim": 52}]},
 "mark": {"type": "rule", "stroke": "#1a1a1a", "strokeWidth": 2, "strokeDash": [10,6]},
 "encoding": {"y": {"field": "lim", "type": "quantitative", "axis": null}}},
{"data": {"name": "shell"},
 "transform": [{"fold": ["Shell02-Top","Shell02-Left","Shell02-Bottom","Shell02-Right"], "as": ["series","value"]}],
 "mark": {"type": "point", "filled": true, "opacity": 1, "size": 95, "stroke": "#333333", "strokeWidth": 0.7},
 "encoding": {
  "x": {"field": "i", "type": "quantitative", "axis": {"orient": "top", "values": [1,2,3,4,5,6,7,8,9,10,11,12,13,14,15,16,17,18,19,20,21,22,23,24,25,26,27,28,29,30,31,32,33,34,35,36,37,38,39,40,41,42,43,44,45,46,47,48,49,50,51,52,53,54,55,56,57,58,59,60,61,62,63,64,65,66,67,68,69,70,71,72,73,74,75,76,77,78,79,80,81,82,83,84,85,86,87,88,89,90,91,92,93,94,95,96,97,98,99,100,101,102,103,104,105,106,107], "labels": false, "title": null, "grid": false, "ticks": true, "tickSize": -7, "domain": false, "minExtent": 0, "maxExtent": 0}},
  "y": {"field": "value", "type": "quantitative", "axis": {"orient": "right", "values": [20,40,60,80,100,120], "labels": false, "title": null, "grid": false, "ticks": true, "tickSize": -7, "domain": false, "minExtent": 0, "maxExtent": 0}},
  "color": {"field": "series", "type": "nominal", "scale": {"domain": ["Shell02-Top","Shell02-Left","Shell02-Bottom","Shell02-Right","Preload target limits at room temperature"], "range": ["#2e8b2e","#cc00cc","#ff0000","#cccc00","#000000"]}, "legend": null}
 }},
{"data": {"values": []},
 "mark": {"type": "point", "filled": true, "opacity": 1, "strokeWidth": 1.4},
 "encoding": {
  "color": {"field": "series", "type": "nominal", "scale": {"domain": ["Shell02-Top","Shell02-Left","Shell02-Bottom","Shell02-Right","Preload target limits at room temperature"], "range": ["#2e8b2e","#cc00cc","#ff0000","#cccc00","#000000"]},
   "legend": {"orient": "none", "legendX": 244, "legendY": 104, "direction": "horizontal", "title": null, "labelFontSize": 18, "labelLimit": 400, "symbolSize": 400, "symbolStrokeWidth": 1.4, "symbolOffset": 10, "labelOffset": 15, "columnPadding": 4, "padding": 3, "strokeColor": "#444444", "fillColor": "#ffffff"}},
  "stroke": {"field": "series", "type": "nominal", "scale": {"domain": ["Shell02-Top","Shell02-Left","Shell02-Bottom","Shell02-Right","Preload target limits at room temperature"], "range": ["#4ea24e","#d23cd2","#e05050","#e6e65c","#111111"]},
   "legend": {"orient": "none", "legendX": 244, "legendY": 104, "direction": "horizontal", "title": null, "labelFontSize": 18, "labelLimit": 400, "symbolSize": 400, "symbolStrokeWidth": 1.4, "symbolOffset": 10, "labelOffset": 15, "columnPadding": 4, "padding": 3, "strokeColor": "#444444", "fillColor": "#ffffff"}},
  "shape": {"field": "series", "type": "nominal", "scale": {"domain": ["Shell02-Top","Shell02-Left","Shell02-Bottom","Shell02-Right","Preload target limits at room temperature"], "range": ["M-2,0L-0.45,0M0.45,0L2,0M0.45,0A0.45,0.45,0,1,1,-0.45,0A0.45,0.45,0,1,1,0.45,0Z","M-2,0L-0.45,0M0.45,0L2,0M0.45,0A0.45,0.45,0,1,1,-0.45,0A0.45,0.45,0,1,1,0.45,0Z","M-2,0L-0.45,0M0.45,0L2,0M0.45,0A0.45,0.45,0,1,1,-0.45,0A0.45,0.45,0,1,1,0.45,0Z","M-2,0L-0.45,0M0.45,0L2,0M0.45,0A0.45,0.45,0,1,1,-0.45,0A0.45,0.45,0,1,1,0.45,0Z","M-2,0L-1.3,0M-0.35,0L0.35,0M1.3,0L2,0"]},
   "legend": {"orient": "none", "legendX": 244, "legendY": 104, "direction": "horizontal", "title": null, "labelFontSize": 18, "labelLimit": 400, "symbolSize": 400, "symbolStrokeWidth": 1.4, "symbolOffset": 10, "labelOffset": 15, "columnPadding": 4, "padding": 3, "strokeColor": "#444444", "fillColor": "#ffffff"}}
 }}
],
"resolve": {"axis": {"x": "independent", "y": "independent"}, "scale": {"color": "independent", "stroke": "independent", "shape": "independent"}}
},
{
"width": 1280, "height": 331,
"title": {"text": "Rods Axial Strain"},
"layer": [
{"data": {"name": "rods"},
 "transform": [{"fold": ["Rod1","Rod2","Rod3","Rod4"], "as": ["series","value"]}],
 "mark": {"type": "line", "strokeWidth": 1},
 "encoding": {
  "x": {"field": "i", "type": "quantitative", "scale": {"domain": [0,108], "nice": false, "zero": false},
   "axis": {"orient": "bottom", "values": [1,2,3,4,5,6,7,8,9,10,11,12,13,14,15,16,17,18,19,20,21,22,23,24,25,26,27,28,29,30,31,32,33,34,35,36,37,38,39,40,41,42,43,44,45,46,47,48,49,50,51,52,53,54,55,56,57,58,59,60,61,62,63,64,65,66,67,68,69,70,71,72,73,74,75,76,77,78,79,80,81,82,83,84,85,86,87,88,89,90,91,92,93,94,95,96,97,98,99,100,101,102,103,104,105,106,107],
    "labelExpr": "['','Init.Read. (1st test)','Warmup (1st test)','Init.Read.(endur)','Cooldown 1','','Ramp 1','','Trigg.Quench 1','','Trigg.Quench 2','','Warmup 1','','Cooldown 2','','Spont.Quench','','Ramp 2','','Ramp 3','','Ramp 4','','Trigg.Quench 3','','Trigg.Quench 4','','Trigg.Quench 5','','Trigg.Quench 6','','Trigg.Quench 7','','Trigg.Quench 8','','Trigg.Quench 9','','Trigg.Quench 10','','Trigg.Quench 11','','Trigg.Quench 12','','Trigg.Quench 13','','Trigg.Quench 14','','Trigg.Quench 15','','Trigg.Quench 16','','Trigg.Quench 17','','Trigg.Quench 18','','Trigg.Quench 19','','Trigg.Quench 20','','Trigg.Quench 21','','Trigg.Quench 22','','Trigg.Quench 23','','Trigg.Quench 24','','Trigg.Quench 25','','Trigg.Quench 26','','Trigg.Quench 27','','Trigg.Quench 28','','Trigg.Quench 29','','Trigg.Quench 30','','Trigg.Quench 31','','Trigg.Quench 32','','Trigg.Quench 33','','Trigg.Quench 34','','Trigg.Quench 35','','Trigg.Quench 36','','Trigg.Quench 37','','Trigg.Quench 38','','Trigg.Quench 39','','Trigg.Quench 40','','Ramp 5','','Ramp 6','','Ramp 7','','Warmup 2',''][datum.value]",
    "labelAngle": 270, "labelFontSize": 17, "labelOverlap": false, "labelFlush": false, "labelBound": false, "labelPadding": 11, "labelLimit": 300,
    "title": "Process", "titleFontSize": 21, "titleY": 141, "titleBaseline": "alphabetic",
    "grid": true, "ticks": true, "tickSize": -7, "domain": false}},
  "y": {"field": "value", "type": "quantitative", "scale": {"domain": [600,2200], "nice": false, "zero": false},
   "axis": {"title": "Strain (microns/meter)", "values": [600,800,1000,1200,1400,1600,1800,2000,2200], "labelExpr": "datum.value + ''", "grid": true, "ticks": true, "tickSize": -7, "domain": false, "labelPadding": 8, "titlePadding": 5}},
  "stroke": {"field": "series", "type": "nominal", "scale": {"domain": ["Rod1","Rod2","Rod3","Rod4","Preload target limits at room temperature"], "range": ["#4ea24e","#d23cd2","#e05050","#e6e65c","#111111"]}, "legend": null}
 }},
{"data": {"values": [{"lim": 1047},{"lim": 857}]},
 "mark": {"type": "rule", "stroke": "#1a1a1a", "strokeWidth": 2, "strokeDash": [10,6]},
 "encoding": {"y": {"field": "lim", "type": "quantitative", "axis": null}}},
{"data": {"name": "rods"},
 "transform": [{"fold": ["Rod1","Rod2","Rod3","Rod4"], "as": ["series","value"]}],
 "mark": {"type": "point", "filled": true, "opacity": 1, "size": 95, "stroke": "#333333", "strokeWidth": 0.7},
 "encoding": {
  "x": {"field": "i", "type": "quantitative", "axis": {"orient": "top", "values": [1,2,3,4,5,6,7,8,9,10,11,12,13,14,15,16,17,18,19,20,21,22,23,24,25,26,27,28,29,30,31,32,33,34,35,36,37,38,39,40,41,42,43,44,45,46,47,48,49,50,51,52,53,54,55,56,57,58,59,60,61,62,63,64,65,66,67,68,69,70,71,72,73,74,75,76,77,78,79,80,81,82,83,84,85,86,87,88,89,90,91,92,93,94,95,96,97,98,99,100,101,102,103,104,105,106,107], "labels": false, "title": null, "grid": false, "ticks": true, "tickSize": -7, "domain": false, "minExtent": 0, "maxExtent": 0}},
  "y": {"field": "value", "type": "quantitative", "axis": {"orient": "right", "values": [600,800,1000,1200,1400,1600,1800,2000,2200], "labels": false, "title": null, "grid": false, "ticks": true, "tickSize": -7, "domain": false, "minExtent": 0, "maxExtent": 0}},
  "color": {"field": "series", "type": "nominal", "scale": {"domain": ["Rod1","Rod2","Rod3","Rod4","Preload target limits at room temperature"], "range": ["#2e8b2e","#cc00cc","#ff0000","#cccc00","#000000"]}, "legend": null}
 }},
{"data": {"values": []},
 "mark": {"type": "point", "filled": true, "opacity": 1, "strokeWidth": 1.4},
 "encoding": {
  "color": {"field": "series", "type": "nominal", "scale": {"domain": ["Rod1","Rod2","Rod3","Rod4","Preload target limits at room temperature"], "range": ["#2e8b2e","#cc00cc","#ff0000","#cccc00","#000000"]},
   "legend": {"orient": "none", "legendX": 326, "legendY": 144, "direction": "horizontal", "title": null, "labelFontSize": 18, "labelLimit": 400, "symbolSize": 400, "symbolStrokeWidth": 1.4, "symbolOffset": 10, "labelOffset": 15, "columnPadding": 4, "padding": 3, "strokeColor": "#444444", "fillColor": "#ffffff"}},
  "stroke": {"field": "series", "type": "nominal", "scale": {"domain": ["Rod1","Rod2","Rod3","Rod4","Preload target limits at room temperature"], "range": ["#4ea24e","#d23cd2","#e05050","#e6e65c","#111111"]},
   "legend": {"orient": "none", "legendX": 326, "legendY": 144, "direction": "horizontal", "title": null, "labelFontSize": 18, "labelLimit": 400, "symbolSize": 400, "symbolStrokeWidth": 1.4, "symbolOffset": 10, "labelOffset": 15, "columnPadding": 4, "padding": 3, "strokeColor": "#444444", "fillColor": "#ffffff"}},
  "shape": {"field": "series", "type": "nominal", "scale": {"domain": ["Rod1","Rod2","Rod3","Rod4","Preload target limits at room temperature"], "range": ["M-2,0L-0.45,0M0.45,0L2,0M0.45,0A0.45,0.45,0,1,1,-0.45,0A0.45,0.45,0,1,1,0.45,0Z","M-2,0L-0.45,0M0.45,0L2,0M0.45,0A0.45,0.45,0,1,1,-0.45,0A0.45,0.45,0,1,1,0.45,0Z","M-2,0L-0.45,0M0.45,0L2,0M0.45,0A0.45,0.45,0,1,1,-0.45,0A0.45,0.45,0,1,1,0.45,0Z","M-2,0L-0.45,0M0.45,0L2,0M0.45,0A0.45,0.45,0,1,1,-0.45,0A0.45,0.45,0,1,1,0.45,0Z","M-2,0L-1.3,0M-0.35,0L0.35,0M1.3,0L2,0"]},
   "legend": {"orient": "none", "legendX": 326, "legendY": 144, "direction": "horizontal", "title": null, "labelFontSize": 18, "labelLimit": 400, "symbolSize": 400, "symbolStrokeWidth": 1.4, "symbolOffset": 10, "labelOffset": 15, "columnPadding": 4, "padding": 3, "strokeColor": "#444444", "fillColor": "#ffffff"}}
 }}
],
"resolve": {"axis": {"x": "independent", "y": "independent"}, "scale": {"color": "independent", "stroke": "independent", "shape": "independent"}}
}
],
"resolve": {"scale": {"color": "independent", "stroke": "independent", "shape": "independent"}},
"config": {
 "font": "Liberation Serif",
 "view": {"stroke": "#666666", "strokeWidth": 1},
 "title": {"font": "Liberation Serif", "fontSize": 22, "fontWeight": "bold", "color": "#000000", "offset": -9, "anchor": "middle"},
 "axis": {"labelFont": "Liberation Serif", "titleFont": "Liberation Serif", "labelFontSize": 20, "titleFontSize": 24, "titleFontWeight": "normal", "labelColor": "#262626", "titleColor": "#262626", "gridColor": "#e2e2e2", "gridWidth": 1, "tickColor": "#555555", "tickWidth": 1},
 "legend": {"labelFont": "Liberation Serif", "labelColor": "#111111"}
}
}
